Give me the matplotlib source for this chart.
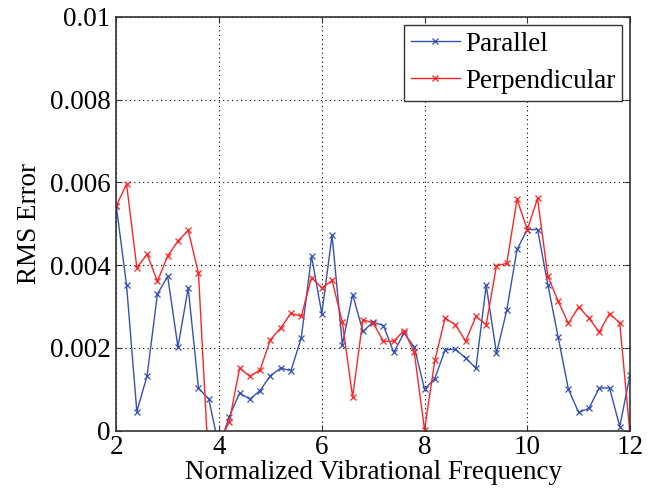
import numpy as np
import matplotlib
matplotlib.use("Agg")
import matplotlib.pyplot as plt

freq = [round(2 + 0.2 * i, 1) for i in range(51)]
parallel = [5.43, 3.51, 0.46, 1.33, 3.30, 3.73, 2.02, 3.45, 1.03, 0.76,
            -0.40, 0.34, 0.91, 0.76, 0.97, 1.33, 1.51, 1.45, 2.24, 4.22,
            2.83, 4.72, 2.08, 3.29, 2.40, 2.62, 2.54, 1.89, 2.36, 2.02,
            1.00, 1.26, 1.95, 1.97, 1.75, 1.51, 3.51, 1.87, 2.91, 4.38,
            4.86, 4.86, 3.53, 2.26, 1.00, 0.44, 0.54, 1.03, 1.03, 0.10,
            1.35]
perpendicular = [5.43, 5.96, 3.94, 4.26, 3.61, 4.22, 4.58, 4.84, 3.80, -0.90,
                 -0.30, 0.22, 1.51, 1.31, 1.47, 2.20, 2.48, 2.84, 2.76, 3.70,
                 3.45, 3.63, 2.62, 0.81, 2.68, 2.60, 2.16, 2.16, 2.42, 1.89,
                 0.02, 1.70, 2.72, 2.56, 2.16, 2.76, 2.56, 3.99, 4.04, 5.59,
                 4.86, 5.61, 3.73, 3.13, 2.59, 2.99, 2.72, 2.38, 2.83, 2.60,
                 -0.10]
parallel = [v * 1e-3 for v in parallel]
perpendicular = [v * 1e-3 for v in perpendicular]

plt.rcParams['font.family'] = ['Liberation Serif', 'DejaVu Serif']

fig = plt.figure(figsize=(6.57, 4.95), dpi=100)
ax = fig.add_axes([0.177, 0.130, 0.782, 0.836])

ax.plot(freq, parallel, color='#3552b0', marker='x', markersize=4,
        linewidth=1.0, markeredgewidth=0.9, label='Parallel')
ax.plot(freq, perpendicular, color='#ff2424', marker='x', markersize=4,
        linewidth=1.0, markeredgewidth=0.9, label='Perpendicular')

ax.set_xlim(2, 12)
ax.set_ylim(0, 0.01)
ax.set_xticks([2, 4, 6, 8, 10, 12])
ax.set_yticks([0, 0.002, 0.004, 0.006, 0.008, 0.01])
ax.set_yticklabels(['0', '0.002', '0.004', '0.006', '0.008', '0.01'])
ax.tick_params(direction='in', labelsize=19.5, length=4, top=True, right=True,
               color='#333333')
ax.tick_params(axis='y', pad=4)
ax.tick_params(axis='x', pad=3)
ax.grid(True, linestyle=(0, (1, 3)), color='black', linewidth=0.8)
for s in ax.spines.values():
    s.set_linewidth(1.2)
    s.set_color('#333333')

ax.set_xlabel('Normalized Vibrational Frequency', fontsize=19.5, labelpad=0)
ax.set_ylabel('RMS Error', fontsize=19.5, labelpad=6)

leg = ax.legend(loc='upper right', fontsize=19.5, fancybox=False, framealpha=1,
                edgecolor='#333333', borderaxespad=0.3, handlelength=1.8,
                handletextpad=0.2, borderpad=0.25, labelspacing=0.45)
leg.get_frame().set_linewidth(1.0)

fig.savefig('out.png', dpi=100)
